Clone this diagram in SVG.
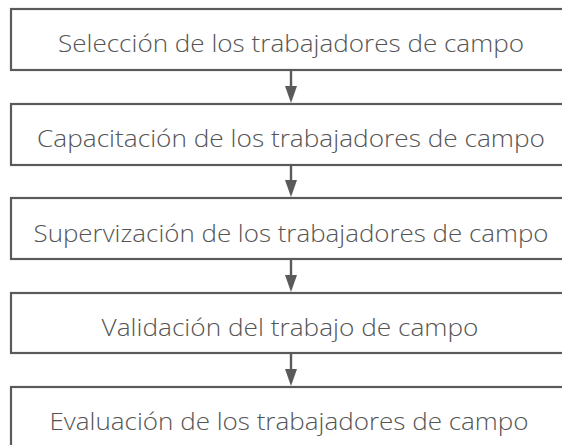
<svg xmlns="http://www.w3.org/2000/svg" width="562" height="445" viewBox="0 0 562 445">
<style>
.box{fill:#ffffff;stroke:#5a5a5a;stroke-width:2.2}
.lbl{font-family:"Open Sans","Lato","Liberation Sans",sans-serif;font-weight:300;font-size:23px;fill:#555555;text-anchor:middle}
.conn{stroke:#5a5a5a;stroke-width:2.4;fill:none}
.head{fill:#5a5a5a}
</style>
<rect width="562" height="445" fill="#ffffff"/>
<g id="n1"><rect class="box" x="11" y="9" width="570" height="61"/><text class="lbl" x="291" y="52" textLength="466" lengthAdjust="spacingAndGlyphs">Selección de los trabajadores de campo</text></g>
<g id="n2"><rect class="box" x="11" y="104" width="570" height="61"/><text class="lbl" x="291" y="147" textLength="508" lengthAdjust="spacingAndGlyphs">Capacitación de los trabajadores de campo</text></g>
<g id="n3"><rect class="box" x="11" y="198" width="570" height="61"/><text class="lbl" x="291" y="242" textLength="515" lengthAdjust="spacingAndGlyphs">Supervización de los trabajadores de campo</text></g>
<g id="n4"><rect class="box" x="11" y="293" width="570" height="60"/><text class="lbl" x="290" y="336" textLength="377" lengthAdjust="spacingAndGlyphs">Validación del trabajo de campo</text></g>
<g id="n5"><rect class="box" x="11" y="387" width="570" height="70"/><text class="lbl" x="289" y="430" textLength="479" lengthAdjust="spacingAndGlyphs">Evaluación de los trabajadores de campo</text></g>
<g id="connectors">
<line class="conn" x1="291" y1="71" x2="291" y2="88"/><polygon class="head" points="285,86 297,86 291,103"/>
<line class="conn" x1="291" y1="166" x2="291" y2="182"/><polygon class="head" points="285,180 297,180 291,197"/>
<line class="conn" x1="291" y1="260" x2="291" y2="277"/><polygon class="head" points="285,275 297,275 291,292"/>
<line class="conn" x1="291" y1="354" x2="291" y2="371"/><polygon class="head" points="285,369 297,369 291,386"/>
</g>
</svg>
